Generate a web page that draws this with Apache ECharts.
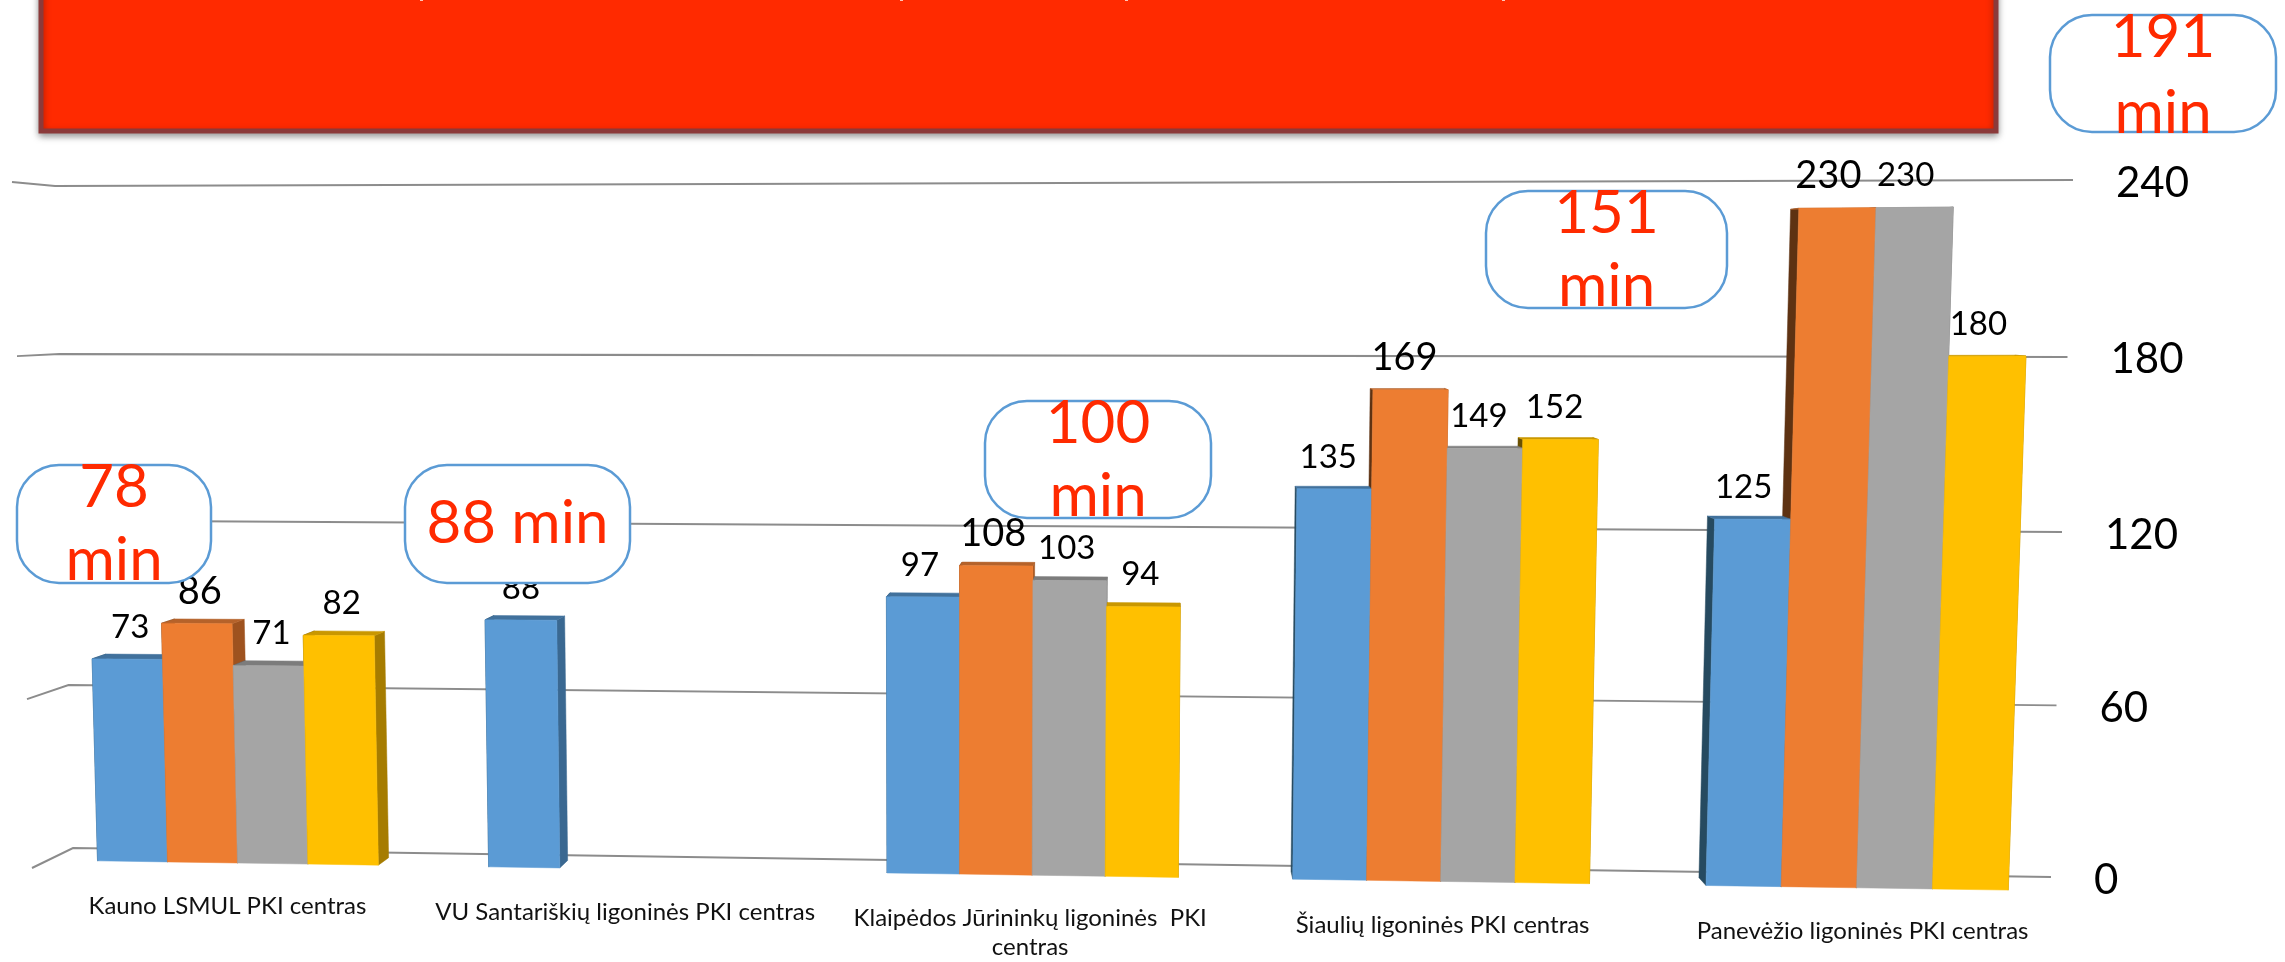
<!DOCTYPE html>
<html><head><meta charset="utf-8">
<style>html,body{margin:0;padding:0;background:#fff}#c{width:2285px;height:962px}</style>
<script src="https://cdn.jsdelivr.net/npm/echarts@6/dist/echarts.min.js"></script>
</head><body><div id="c"></div>
<script>
const categories = ['Kauno LSMUL PKI centras','VU Santariškių ligoninės PKI centras','Klaipėdos Jūrininkų ligoninės  PKI\ncentras','Šiaulių ligoninės PKI centras','Panevėžio ligoninės PKI centras'];
const seriesBlue   = [73, 88, 97, 135, 125];
const seriesOrange = [86, null, 108, 169, 230];
const seriesGrey   = [71, null, 103, 149, 230];
const seriesYellow = [82, null, 94, 152, 180];
const ticks = [0, 60, 120, 180, 240];
const calloutTexts = ['78\nmin', '88 min', '100\nmin', '151\nmin', '191\nmin'];

// styling / layout
const FONT = 'Lato';
const palette = [
  {front:'#5B9BD5', right:'#3A6891', left:'#264A60', top:'#41719C', size:33},
  {front:'#ED7D31', right:'#9E521F', left:'#5E3212', top:'#B5622A', size:38},
  {front:'#A5A5A5', right:'#6E6E6E', left:'#4A4A4A', top:'#7C7C7C', size:33},
  {front:'#FFC000', right:'#A67C00', left:'#6B5000', top:'#C99700', size:33}
];
const calloutBoxes = [
  {x:17,y:465,w:194,h:118,lh:73,ty:-18},
  {x:405,y:465,w:225,h:118,lh:73,ty:0},
  {x:985,y:401,w:226,h:117,lh:73,ty:-18},
  {x:1486,y:191,w:241,h:117,lh:73,ty:-18},
  {x:2050,y:15,w:226,h:117,lh:76,ty:-18}
];
const titleSpecks = [420, 900, 1125, 1502];
const frontQuad = {bl:[42,860], br:[2066,891], tr:[2091,176], tl:[23,194]};
const wall = {l0:[73,848], r0:[2051,877], l1:[55,186], r1:[2073,180], s0:[32,868], s1:[12,182]};
const vanish = [1165,290], depth = 0.013;
const groupFrac = 0.72;
const bendS = 0.0245, shiftS = 0.0007, bendT = 0.014, bendWall = 14;

function homography(q){
  const [x0,y0]=q.bl,[x1,y1]=q.br,[x2,y2]=q.tr,[x3,y3]=q.tl;
  const dx1=x1-x2,dx2=x3-x2,sx=x0-x1+x2-x3,dy1=y1-y2,dy2=y3-y2,sy=y0-y1+y2-y3;
  const den=dx1*dy2-dx2*dy1, g=(sx*dy2-dx2*sy)/den, h=(dx1*sy-sx*dy1)/den;
  const a=x1-x0+g*x1,b=x3-x0+h*x3,d=y1-y0+g*y1,e=y3-y0+h*y3;
  return (s,t)=>{const w=g*s+h*t+1;return [(a*s+b*t+x0)/w,(d*s+e*t+y0)/w];};
}
const baseWarp = homography(frontQuad);
const warp = (s,t)=>baseWarp(s+bendS*s*(1-s)+shiftS, t+bendT*t*(1-t));
const lerp=(a,b,t)=>[a[0]+(b[0]-a[0])*t,a[1]+(b[1]-a[1])*t];
const back=p=>[p[0]+(vanish[0]-p[0])*depth,p[1]+(vanish[1]-p[1])*depth];

function barSeries(idx, values){
  const st = palette[idx];
  return {
    type:'custom', coordinateSystem:'cartesian2d', silent:true, clip:false,
    name:'s'+idx,
    data: values.map((v,i)=>v==null?null:[i,v]).filter(Boolean),
    encode:{x:0,y:1},
    renderItem(params, api){
      const cs = params.coordSys;
      const i = api.value(0), v = api.value(1);
      const top = api.coord([i,v]), base = api.coord([i,0]);
      const band = api.size([1,0])[0], bw = band*groupFrac/4;
      const x0 = top[0]+(idx-2)*bw, x1 = x0+bw;
      const m = (x,y)=>warp((x-cs.x)/cs.width,(cs.y+cs.height-y)/cs.height);
      const bl=m(x0,base[1]),br=m(x1,base[1]),tr=m(x1,top[1]),tl=m(x0,top[1]);
      const poly=(pts,fill,z2)=>({type:'polygon',shape:{points:pts},style:{fill,stroke:fill,lineWidth:0.5},z2});
      const mid = lerp(tl,tr,0.5);
      return {type:'group',children:[
        poly([br,tr,back(tr),back(br)],st.right,1),
        poly([bl,tl,back(tl),back(bl)],st.left,1),
        poly([tl,tr,back(tr),back(tl)],st.top,2),
        poly([bl,br,tr,tl],st.front,10),
        {type:'text',z2:20,style:{x:mid[0]+3-3*i,y:mid[1]-32,text:String(v),fill:'#000',font:st.size+'px '+FONT,align:'center',verticalAlign:'middle'}}
      ]};
    }
  };
}

const gridSeries = {
  type:'custom', coordinateSystem:'cartesian2d', silent:true, clip:false, z:1,
  data: ticks.map(t=>[0,t]), encode:{x:0,y:1},
  renderItem(params, api){
    const cs=params.coordSys, v=api.value(1);
    const t=(cs.y+cs.height-api.coord([0,v])[1])/cs.height;
    const dy=bendWall*t*(1-t);
    const s=lerp(wall.s0,wall.s1,t), l=lerp(wall.l0,wall.l1,t), r=lerp(wall.r0,wall.r1,t);
    s[1]+=dy; l[1]+=dy; r[1]+=dy;
    return {type:'group',children:[
      {type:'polyline',shape:{points:[s,l,r]},style:{stroke:'#8C8C8C',lineWidth:2,fill:'none'}},
      {type:'text',style:{x:r[0]+43,y:r[1]+3,text:String(v),fill:'#000',font:'42px '+FONT,align:'left',verticalAlign:'middle'}}
    ]};
  }
};

const catSeries = {
  type:'custom', coordinateSystem:'cartesian2d', silent:true, clip:false, z:4,
  data: categories.map((c,i)=>[i,0]), encode:{x:0,y:1},
  renderItem(params, api){
    const cs=params.coordSys, i=api.value(0), c=api.coord([i,0]);
    const p=warp((c[0]-cs.x)/cs.width,0);
    return {type:'text',style:{x:p[0]-10+4*i,y:p[1]+29,text:categories[i],fill:'#111',font:'24px '+FONT,lineHeight:29,align:'center',verticalAlign:'top'}};
  }
};

const graphics = [
  {type:'rect',z:0,shape:{x:41,y:-20,width:1955,height:151},style:{fill:'#FF2A00',stroke:'#8B3A3A',lineWidth:5,shadowBlur:7,shadowColor:'rgba(0,0,0,.35)',shadowOffsetY:3}}
];
titleSpecks.forEach(x=>graphics.push({type:'rect',z:1,shape:{x:x,y:0,width:3,height:1},style:{fill:'#FFC4B8'}}));
calloutBoxes.forEach((b,i)=>{
  graphics.push({type:'rect',z:100,shape:{x:b.x,y:b.y,width:b.w,height:b.h,r:42},style:{fill:'#fff',stroke:'#5B9BD5',lineWidth:2.5}});
  graphics.push({type:'text',z:101,style:{x:b.x+b.w/2,y:b.y+b.h/2+b.ty+(calloutTexts[i].includes('\n')?b.lh/2-18:0),text:calloutTexts[i],fill:'#FF2A00',font:'60px '+FONT,lineHeight:b.lh,align:'center',verticalAlign:'middle'}});
});

const chart = echarts.init(document.getElementById('c'),null,{renderer:'canvas'});
chart.setOption({
  animation:false, backgroundColor:'#fff',
  grid:{left:42,right:219,top:190,bottom:87},
  xAxis:{type:'category',data:categories,show:false},
  yAxis:{type:'value',min:0,max:240,interval:60,show:false},
  graphic:{elements:graphics},
  series:[gridSeries, barSeries(0,seriesBlue), barSeries(1,seriesOrange), barSeries(2,seriesGrey), barSeries(3,seriesYellow), catSeries]
});
</script></body></html>
